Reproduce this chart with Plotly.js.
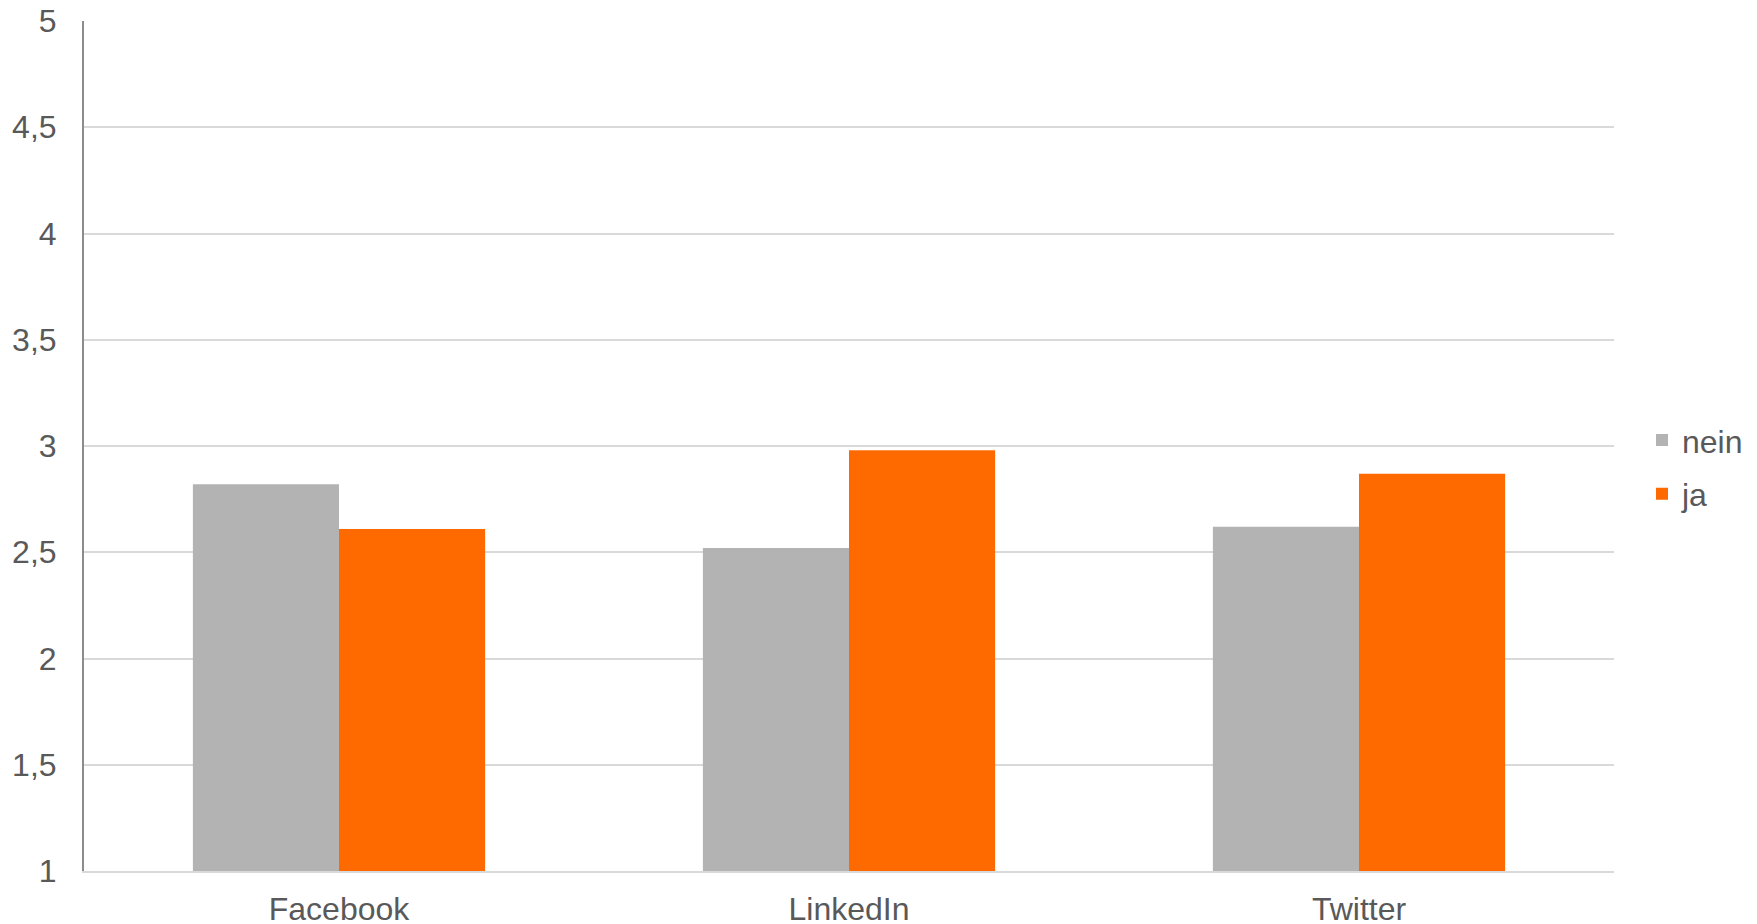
<!DOCTYPE html>
<html>
<head>
<meta charset="utf-8">
<script src="https://cdn.plot.ly/plotly-3.0.1.min.js"></script>
<style>
  html, body { margin: 0; padding: 0; background: #ffffff; }
  #chart { width: 1757px; height: 924px; }
</style>
</head>
<body>
<div id="chart"></div>
<script>
// Average rating per network, split by answer group
const categories = ['Facebook', 'LinkedIn', 'Twitter'];
const seriesNames = ['nein', 'ja'];
const neinValues = [2.82, 2.52, 2.62];
const jaValues = [2.61, 2.98, 2.87];
const yTicks = [1, 1.5, 2, 2.5, 3, 3.5, 4, 4.5, 5];

const textColor = '#595959';
const fontFamily = '"Liberation Sans", Arial, sans-serif';
const fontSize = 32;

const traces = [
  {
    type: 'bar',
    name: seriesNames[0],
    legendgroup: 'g1',
    x: categories,
    y: neinValues,
    marker: { color: '#b3b3b3' },
    hoverinfo: 'x+y+name'
  },
  {
    type: 'bar',
    name: seriesNames[1],
    legendgroup: 'g2',
    x: categories,
    y: jaValues,
    marker: { color: '#ff6a00' },
    hoverinfo: 'x+y+name'
  }
];

const layout = {
  width: 1757,
  height: 924,
  margin: { l: 84, r: 143, t: 21, b: 53, autoexpand: false },
  paper_bgcolor: '#ffffff',
  plot_bgcolor: '#ffffff',
  separators: ',.',
  font: { family: fontFamily, size: fontSize, color: textColor },
  barmode: 'group',
  bargap: 0.427,
  bargroupgap: 0,
  showlegend: true,
  legend: {
    x: 1.0183,
    xanchor: 'left',
    y: 0.475,
    yanchor: 'middle',
    traceorder: 'grouped',
    tracegroupgap: 9,
    font: { family: fontFamily, size: fontSize, color: textColor },
    bgcolor: 'rgba(0,0,0,0)',
    borderwidth: 0
  },
  xaxis: {
    type: 'category',
    showgrid: false,
    showline: true,
    linecolor: '#d9d9d9',
    linewidth: 2,
    ticks: '',
    ticklabelstandoff: 9,
    tickfont: { family: fontFamily, size: fontSize, color: textColor },
    fixedrange: true
  },
  yaxis: {
    range: [1, 5],
    tickvals: yTicks,
    showgrid: true,
    gridcolor: '#d9d9d9',
    gridwidth: 1.5,
    zeroline: false,
    showline: true,
    linecolor: '#8c8c8c',
    linewidth: 2,
    ticks: '',
    ticklabelstandoff: 19,
    tickfont: { family: fontFamily, size: fontSize, color: textColor },
    fixedrange: true
  }
};

Plotly.newPlot('chart', traces, layout, { displayModeBar: false });
</script>
</body>
</html>
